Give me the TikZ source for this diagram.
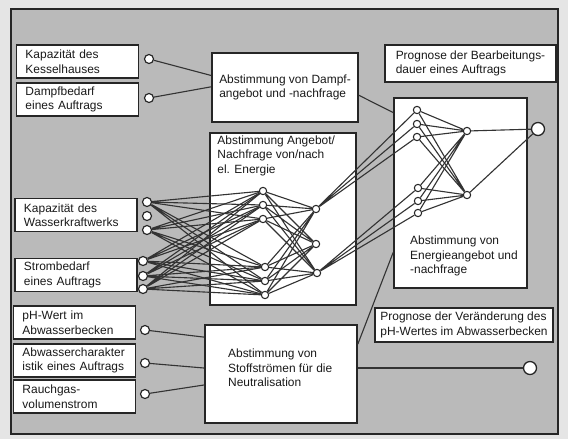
\documentclass[tikz,border=0pt]{standalone}
\usepackage{fontspec}
\setmainfont{Liberation Sans}
\usetikzlibrary{calc}

\tikzset{
  inbox/.style={draw=black!85, fill=white, line width=1.4pt, minimum width=3.66cm, minimum height=0.99cm, text width=3.12cm, inner xsep=0.27cm, inner ysep=0pt, align=left},
  box/.style={draw=black!85, fill=white, line width=1.4pt, inner sep=0pt, align=left},
  port/.style={circle, draw=black!85, fill=white, line width=1pt, inner sep=0pt, minimum size=0.27cm},
  unit/.style={circle, draw=black!85, fill=white, line width=0.9pt, inner sep=0pt, minimum size=0.22cm},
  outport/.style={circle, draw=black!85, fill=white, line width=1.1pt, inner sep=0pt, minimum size=0.39cm},
  wire/.style={draw=black!80, line width=0.95pt},
}

\begin{document}
\begin{tikzpicture}[x=0.03cm, y=-0.03cm]
\tikzstyle{every node}=[font=\fontsize{10.2}{12.4}\selectfont, text=black!90]
\useasboundingbox (0,0) rectangle (568,439);
\fill[black!10] (0,0) rectangle (568,439);
\fill[black!27] (11,9) rectangle (558,434);
\draw[black!85, line width=2.2pt] (11,9) rectangle (558,434);

% inputs
\node[inbox] (kessel) at (77.5,61.5) {Kapazität des\\Kesselhauses};
\node[inbox] (dampf) at (77.5,99.5) {Dampfbedarf\\eines Auftrags};
\node[inbox] (wasser) at (76,215) {Kapazität des\\Wasserkraftwerks};
\node[inbox] (strom) at (76,275) {Strombedarf\\eines Auftrags};
\node[inbox] (phwert) at (74.5,322.5) {pH-Wert im\\Abwasserbecken};
\node[inbox] (abwasser) at (74.5,360.5) {Abwassercharakter\\istik eines Auftrags};
\node[inbox] (rauch) at (74.5,396.5) {Rauchgas-\\volumenstrom};

\node[port] (cK) at (149,59) {};
\node[port] (cD) at (149,98) {};
\node[port] (cW1) at (147,202) {};
\node[port] (cW2) at (147,216) {};
\node[port] (cW3) at (147,230) {};
\node[port] (cS1) at (143,261) {};
\node[port] (cS2) at (143,276) {};
\node[port] (cS3) at (143,289) {};
\node[port] (cP) at (145,330) {};
\node[port] (cA) at (145,363) {};
\node[port] (cR) at (145,394) {};

% middle column
\node[box, minimum width=4.38cm, minimum height=2.07cm] (dampfabst) at (285,87.5) {Abstimmung von Dampf-\\angebot und -nachfrage};
\node[box, minimum width=4.38cm, minimum height=5.16cm] (energie) at (283,219) {};
\node[anchor=north west, align=left, inner sep=1pt] (energietext) at (216,134) {Abstimmung Angebot/\\Nachfrage von/nach\\el. Energie};
\node[box, minimum width=4.56cm, minimum height=2.94cm] (stoff) at (281,374) {};
\node[anchor=west, align=left] (stofftext) at (224,368) {Abstimmung von\\Stoffströmen für die\\Neutralisation};

% right column
\node[box, minimum width=5.13cm, minimum height=1.11cm] (dauer) at (470.5,63.5) {Prognose der Bearbeitungs-\\dauer eines Auftrags};
\node[box, minimum width=3.99cm, minimum height=5.7cm] (angebot) at (460.5,193) {};
\node[anchor=west, align=left] (angebottext) at (406,256) {Abstimmung von\\Energieangebot und\\-nachfrage};
\node[box, minimum width=5.34cm, minimum height=1.02cm] (phprog) at (464,325) {Prognose der Veränderung des\\pH-Wertes im Abwasserbecken};

\node[outport] (out1) at (538,129) {};
\node[outport] (out2) at (530,368) {};

% net el. Energie
\node[unit] (h1) at (263,191) {};
\node[unit] (h2) at (263,205) {};
\node[unit] (h3) at (263,219) {};
\node[unit] (h4) at (265,267) {};
\node[unit] (h5) at (265,281) {};
\node[unit] (h6) at (265,295) {};
\node[unit] (o1) at (316,209) {};
\node[unit] (o2) at (316,244) {};
\node[unit] (o3) at (317,273) {};

% net Energieangebot
\node[unit] (e1) at (417,110) {};
\node[unit] (e2) at (417,124) {};
\node[unit] (e3) at (417,137) {};
\node[unit] (e4) at (418,188) {};
\node[unit] (e5) at (418,201) {};
\node[unit] (e6) at (418,213) {};
\node[unit] (eo1) at (467,131) {};
\node[unit] (eo2) at (467,195) {};

\draw[wire] (cW1) -- (h1) (cW1) -- (h2) (cW1) -- (h3) (cW1) -- (h4) (cW1) -- (h5) (cW1) -- (h6);
\draw[wire] (cW3) -- (h1) (cW3) -- (h2) (cW3) -- (h3) (cW3) -- (h4) (cW3) -- (h5) (cW3) -- (h6);
\draw[wire] (cS1) -- (h1) (cS1) -- (h2) (cS1) -- (h3) (cS1) -- (h4) (cS1) -- (h5) (cS1) -- (h6);
\draw[wire] (cS2) -- (h1) (cS2) -- (h2) (cS2) -- (h3) (cS2) -- (h4) (cS2) -- (h5) (cS2) -- (h6);
\draw[wire] (cS3) -- (h1) (cS3) -- (h2) (cS3) -- (h3) (cS3) -- (h4) (cS3) -- (h5) (cS3) -- (h6);
\draw[wire] (h1) -- (o1) (h1) -- (o2) (h1) -- (o3) (h2) -- (o1) (h2) -- (o2) (h2) -- (o3);
\draw[wire] (h3) -- (o1) (h3) -- (o2) (h3) -- (o3) (h4) -- (o1) (h4) -- (o2) (h4) -- (o3);
\draw[wire] (h5) -- (o1) (h5) -- (o2) (h5) -- (o3) (h6) -- (o1) (h6) -- (o2) (h6) -- (o3);
\draw[wire] (o1) -- (e1) (o1) -- (e2) (o1) -- (e3);
\draw[wire] (o3) -- (e4) (o3) -- (e5) (o3) -- (e6);
\draw[wire] (e1) -- (eo1) (e2) -- (eo1) (e3) -- (eo1) (e4) -- (eo1) (e5) -- (eo1) (e6) -- (eo1);
\draw[wire] (e1) -- (eo2) (e2) -- (eo2) (e3) -- (eo2) (e4) -- (eo2) (e5) -- (eo2) (e6) -- (eo2);
\draw[wire] (eo1) -- (out1);
\draw[wire] (eo2) -- (out1);

\draw[wire] (cK) -- ($(dampfabst.north west)!0.33!(dampfabst.south west)$);
\draw[wire] (cD) -- ($(dampfabst.north west)!0.49!(dampfabst.south west)$);
\draw[wire] ($(dampfabst.north east)!0.61!(dampfabst.south east)$) -- ($(angebot.north west)!0.08!(angebot.south west)$);
\draw[wire] (cP) -- ($(stoff.north west)!0.13!(stoff.south west)$);
\draw[wire] (cA) -- ($(stoff.north west)!0.44!(stoff.south west)$);
\draw[wire] (cR) -- ($(stoff.north west)!0.61!(stoff.south west)$);
\draw[wire] ($(stoff.north east)!0.2!(stoff.south east)$) -- ($(angebot.north west)!0.81!(angebot.south west)$);
\draw[wire] (stoff.east |- out2) -- (out2);
\end{tikzpicture}
\end{document}
